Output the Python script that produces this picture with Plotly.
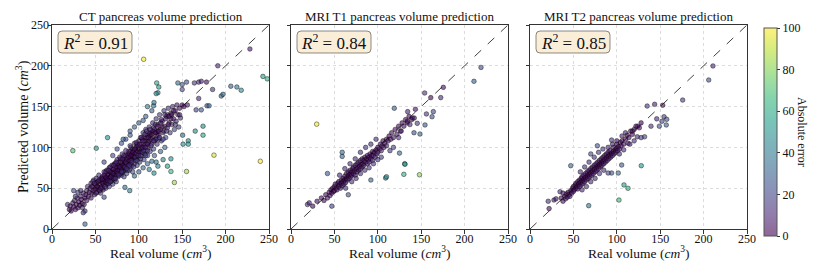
import plotly.graph_objects as go

# ---------------- data (real volume, predicted volume) ----------------
ct_points = [
    # low region
    (18,30),(20,24),(21,28),(22,22),(24,32),(25,27),(26,35),(27,24),(28,30),(29,38),(30,26),(31,33),
    (32,29),(33,40),(34,36),(35,31),(36,44),(37,30),(38,38),(39,42),(40,35),(40,47),(38,22),(35,26),
    (33,47),(30,45),(27,40),(41,52),(42,40),(43,45),
    # main cloud
    (44,50),(45,38),(45,56),(46,44),(47,52),(48,47),(48,60),(49,42),(50,55),(50,49),(51,62),(52,45),
    (52,57),(53,51),(54,66),(54,48),(55,55),(56,60),(56,44),(57,52),(58,64),(58,57),(59,48),(60,70),
    (60,60),(60,54),(61,65),(62,50),(62,58),(63,72),(63,62),(64,55),(65,68),(65,60),(66,75),(66,52),
    (67,64),(68,70),(68,58),(69,78),(69,66),(70,62),(70,73),(70,55),(71,68),(72,80),(72,60),(73,72),
    (73,66),(74,76),(74,58),(75,85),(75,70),(76,64),(76,78),(77,72),(78,68),(78,88),(79,75),(80,80),
    (80,66),(80,73),(81,92),(82,77),(82,70),(83,84),(83,64),(84,80),(85,74),(85,90),(86,68),(86,85),
    (87,78),(88,95),(88,83),(89,72),(90,88),(90,80),(91,100),(91,76),(92,92),(92,85),(93,70),(94,96),
    (94,88),(95,80),(95,105),(96,92),(97,86),(97,100),(98,78),(99,95),(100,88),(100,108),(100,98),
    (101,82),(102,112),(102,95),(103,104),(104,90),(105,100),(105,118),(106,85),(107,108),(108,96),
    (108,122),(109,104),(110,90),(110,115),(111,100),(112,125),(112,108),(113,95),(114,118),(115,104),
    (116,130),(116,112),(117,98),(118,122),(119,110),(120,135),(120,118),(121,104),(122,128),(123,115),
    (124,140),(125,122),(126,108),(127,132),(128,118),(129,145),(130,126),(131,112),(132,138),(133,124),
    (134,148),(135,130),(136,118),(137,142),(138,128),(139,150),(140,135),(141,122),(142,145),(143,132),
    (144,152),(145,140),(146,125),(147,148),(148,136),(150,152),
    (53,58),(55,47),(57,62),(59,56),(61,58),(63,56),(64,66),(66,62),(67,70),(69,60),(71,74),(72,66),
    (74,70),(76,72),(77,82),(79,68),(81,78),(82,86),(84,72),(86,80),(87,90),(89,84),(90,95),(92,78),
    (93,90),(95,88),(96,98),(98,92),(99,102),(101,94),(103,98),(104,110),(106,102),(107,92),(109,112),
    (111,106),(113,115),(114,102),(116,120),(118,108),(119,128),(121,115),(123,110),(125,130),(127,125),
    (129,120),(131,135),(133,140),(135,138),(138,140),
    (47,58),(51,44),(58,50),(62,70),(65,56),(67,76),(71,62),(73,80),(75,66),(77,76),(79,86),(81,70),
    (83,76),(85,82),(87,72),(89,92),(91,84),(93,98),(96,84),(98,104),(100,92),(102,86),(104,100),
    (106,112),(108,90),(110,104),(112,118),(114,110),(117,124),(120,110),(122,120),(124,112),(126,134),
    (128,110),(130,140),(132,120),(134,128),(137,135),(140,145),(142,128),
    (46,52),(49,56),(52,52),(54,60),(56,50),(58,61),(60,66),(61,52),(62,63),(64,59),(65,72),(67,58),
    (68,64),(70,68),(71,78),(73,62),(74,82),(76,68),(77,66),(78,76),(79,82),(80,70),(81,86),(83,90),
    (84,76),(85,96),(86,74),(88,88),(89,78),(90,102),(91,90),(92,82),(93,94),(94,76),(95,98),(96,88),
    (97,106),(98,84),(99,90),(101,104),(102,90),(103,112),(104,94),(105,108),(106,96),(107,116),
    (108,100),(109,120),(110,96),(111,112),(113,122),(115,116),(117,108),(119,118),(121,126),(123,120),
    # scattered around the cloud
    (105,75),(110,80),(112,73),(100,70),(95,65),(118,90),(125,95),(130,100),(128,85),(120,82),
    (60,82),(70,90),(75,98),(80,105),(85,110),(90,120),(95,125),(100,130),(108,138),(115,145),
    (64,112),(82,110),(90,115),(117,151),(117.5,155),(122,167),(110,150),(105,133),
    # outliers
    (105.6,208),(228,220.6),(191,200),(243,187),(248,184),(206,175),(213,174),(218,170),(195,163),
    (197,165),(185,171),(178,180),(169,180),(172,181),(164,179),(155,180),(150,177),(150,171),
    (145,179),(120.6,179),(123,174),(120,166),(169,160),(166,146),(172,146),(178.6,151),(181,151),
    (165,120),(174,126),(174,115),(150.5,115),(151,104),(157,108),(157,104),(155,70.5),(141,57),
    (137,70.5),(137,86),(122,77),(133,77),(117.5,68.5),(115,83),(186.6,90.5),(240,83),(24,96),
    (51,99),(38,6),(25,47),(60,39),(84,51),(89.5,47),(36,20),(147,140),(152,150),(156,152),
]

t1_points = [
    (35,38),(38,35),(40,42),(42,38),(44,45),(45,41),(46,48),(47,44),(48,50),(49,46),(50,52),(50,47),
    (51,55),(52,50),(53,48),(54,56),(55,52),(55,58),(56,54),(57,50),(58,60),(58,56),(59,53),(60,62),
    (60,58),(61,55),(62,60),(62,65),(63,57),(64,62),(64,68),(65,60),(66,65),(66,70),(67,62),(68,67),
    (68,72),(69,64),(70,70),(70,66),(71,74),(72,68),(72,76),(73,71),(74,66),(74,78),(75,73),(76,70),
    (76,80),(77,75),(78,72),(78,82),(79,77),(80,74),(80,84),(81,79),(82,76),(82,86),(83,80),(84,84),
    (84,78),(85,88),(86,82),(87,86),(88,80),(88,90),(89,85),(90,88),(90,82),(91,92),(92,86),(93,90),
    (94,84),(94,95),(95,90),(96,94),(97,88),(98,97),(99,92),(100,100),(100,94),(102,98),(103,104),
    (104,96),(105,102),(106,108),(107,100),(108,105),(110,110),(110,102),(112,108),(113,114),(115,110),
    (116,118),(118,112),(120,122),(122,116),(124,126),(126,120),(128,130),(130,126),(132,134),(134,130),
    (136,138),(140,136),(63,50),(70,58),(75,62),(80,68),(85,72),(90,75),(95,80),(100,85),(104,88),
    (56,66),(62,74),(68,80),(74,86),(80,94),(86,100),(92,104),(98,110),
    (59,94),(59,89),(19,30),(21,32),(25,28),(30,34),(42,68),(47,28),(66,42),(92,60),(125,93),
    (29.6,128.5),(148,66.5),(130,67),(131,80),(109,62.5),(110,64),(119,148),
    (218.9,198),(210.8,181),(175.5,173.6),(172.5,161),(154,166.7),(161,161),(164,143.8),(156,141),
    (162.5,137.6),(154.4,127.5),(143.3,146.7),(134.4,143.8),(145.5,129.5),(148.6,116.4),(141.7,118),
    (131.3,79.3),(134,132),(137,128),(139,134),(142,136),(127,120),(124,112),(114,96),(118,100),
]

t2_points = [
    (36,38),(38,34),(40,40),(41,37),(42,43),(43,39),(44,45),(45,42),(46,40),(47,47),(48,44),(49,50),
    (50,46),(50,52),(51,48),(52,54),(53,50),(53,56),(54,52),(55,58),(55,49),(56,55),(57,60),(57,52),
    (58,57),(59,62),(59,54),(60,59),(60,64),(61,56),(62,61),(62,66),(63,58),(64,63),(64,68),(65,60),
    (66,65),(66,70),(67,62),(68,67),(68,72),(69,64),(70,69),(70,74),(71,66),(72,71),(72,76),(73,68),
    (74,73),(74,78),(75,70),(76,75),(76,80),(77,72),(78,77),(78,82),(79,74),(80,79),(80,84),(81,76),
    (82,81),(82,86),(83,78),(84,83),(84,88),(85,80),(86,85),(86,90),(87,82),(88,87),(88,92),(89,84),
    (90,89),(90,94),(91,86),(92,91),(92,96),(93,88),(94,93),(95,90),(96,95),(96,100),(97,92),(98,97),
    (99,94),(100,99),(100,104),(101,96),(102,101),(103,98),(104,106),(105,102),(106,108),(108,104),
    (110,110),(112,115),(114,112),(116,120),(118,116),(120,122),(124,126),(128,130),(60,48),(65,52),
    (70,58),(75,62),(80,68),(85,72),(58,70),(63,76),(68,82),(74,88),(79,94),(84,98),(90,100),(95,104),
    (100,108),(106,114),(110,118),(103,92),(108,97),(113,105),
    (210.8,199.8),(205.9,182.6),(175.9,158),(135,150.7),(143.6,152.8),(152.9,151.6),(154.4,137.6),
    (157.5,134.4),(152,132),(146,135),(149,126),(157,127.5),(139.4,126),(132,113),(123.6,113),
    (128,112),(128.2,77.6),(108.3,54),(112.9,49.9),(102.5,35.5),(67.6,28.6),(46.9,77.6),
    (101.7,68.6),(94,68.6),(90,68.6),(105.6,78.4),(77.6,102),(70,92),(94,109),(21,34),(27.6,35.5),
    (30,37),(34.6,45.7),(38,44),(22,25),(118,120),(122,126),(126,124),(115,104),(120,108),
]

r2_values = [0.91, 0.84, 0.85]
panel_titles = ["CT pancreas volume prediction", "MRI T1 pancreas volume prediction",
                "MRI T2 pancreas volume prediction"]
tick_vals = [0, 50, 100, 150, 200, 250]

# ---------------- styling ----------------
FONT = "Liberation Serif"
W, H = 830, 277
viridis = ["#440154", "#482878", "#3e4989", "#31688e", "#26828e",
           "#1f9e89", "#35b779", "#6ece58", "#b5de2b", "#fde725"]
ALPHA = 0.6
def rgba(h, a):
    h = h.lstrip("#")
    return f"rgba({int(h[0:2],16)},{int(h[2:4],16)},{int(h[4:6],16)},{a})"
cscale = [[i / (len(viridis) - 1), rgba(c, ALPHA)] for i, c in enumerate(viridis)]

# panel pixel extents
px_left = [52, 291, 530]
px_w = 217
py_top, py_bot = 25, 229

fig = go.Figure()
datasets = [ct_points, t1_points, t2_points]
for i, pts in enumerate(datasets):
    xs = [p[0] for p in pts]
    ys = [p[1] for p in pts]
    err = [abs(b - a) for a, b in pts]
    suffix = "" if i == 0 else str(i + 1)
    fig.add_trace(go.Scatter(
        x=[0, 250], y=[0, 250], mode="lines",
        line=dict(color="rgba(0,0,0,0.75)", width=1, dash="dash"),
        xaxis="x" + suffix, yaxis="y" + suffix, showlegend=False, hoverinfo="skip"))
    fig.add_trace(go.Scatter(
        x=xs, y=ys, mode="markers",
        marker=dict(size=4.6, color=err, coloraxis="coloraxis",
                    line=dict(color="rgba(0,0,0,0.7)", width=0.6)),
        xaxis="x" + suffix, yaxis="y" + suffix, showlegend=False))

axis_common = dict(range=[0, 250], tickvals=tick_vals, showline=True, linecolor="#333",
                   linewidth=1, mirror=True, ticks="outside", ticklen=3.5, tickcolor="#333",
                   showgrid=True, gridcolor="#dcdcdc", griddash="dot", gridwidth=0.8,
                   zeroline=False, automargin=False,
                   tickfont=dict(family=FONT, size=12, color="#111"))

layout = dict(width=W, height=H, margin=dict(l=0, r=0, t=0, b=0, pad=0, autoexpand=False),
              paper_bgcolor="white", plot_bgcolor="white",
              font=dict(family=FONT, color="#111"))
ydom = [1 - py_bot / H, 1 - py_top / H]
for i in range(3):
    suffix = "" if i == 0 else str(i + 1)
    xdom = [px_left[i] / W, (px_left[i] + px_w) / W]
    layout["xaxis" + suffix] = dict(axis_common, domain=xdom, anchor="y" + suffix,
                                    ticklabelstandoff=-5)
    layout["yaxis" + suffix] = dict(axis_common, domain=ydom, anchor="x" + suffix,
                                    showticklabels=(i == 0), ticklabelstandoff=-4)
layout["coloraxis"] = dict(
    cmin=0, cmax=100, colorscale=cscale,
    colorbar=dict(x=764 / W, xanchor="left", y=1 - 132 / H, yanchor="middle",
                  len=208 / H, lenmode="fraction", thickness=13, outlinewidth=1,
                  outlinecolor="#555", ticks="outside", ticklen=3, tickcolor="#333",
                  tickvals=[0, 20, 40, 60, 80, 100],
                  tickfont=dict(family=FONT, size=12, color="#111"), xpad=0, ypad=0))
fig.update_layout(**layout)

annotations = []
shapes = []
sx = 250 / px_w
sy = 250 / (py_bot - py_top)
for i in range(3):
    suffix = "" if i == 0 else str(i + 1)
    cx = (px_left[i] + px_w / 2) / W
    annotations.append(dict(text=panel_titles[i], x=cx, y=1 - 17 / H, xref="paper", yref="paper",
                            showarrow=False, font=dict(family=FONT, size=13, color="#111"),
                            xanchor="center", yanchor="middle"))
    annotations.append(dict(text="Real volume (<i>cm</i><sup>3</sup>)", x=cx, y=1 - 252 / H,
                            xref="paper", yref="paper", showarrow=False, borderpad=0,
                            font=dict(family=FONT, size=13.5, color="#111"),
                            xanchor="center", yanchor="middle"))
    # rounded R^2 box in data coordinates
    x0, x1 = 6 * sx, 80 * sx
    y1, y0 = 250 - 6 * sy, 250 - 28 * sy
    rx, ry = 4 * sx, 4 * sy
    path = (f"M {x0+rx},{y0} L {x1-rx},{y0} Q {x1},{y0} {x1},{y0+ry} L {x1},{y1-ry} "
            f"Q {x1},{y1} {x1-rx},{y1} L {x0+rx},{y1} Q {x0},{y1} {x0},{y1-ry} "
            f"L {x0},{y0+ry} Q {x0},{y0} {x0+rx},{y0} Z")
    shapes.append(dict(type="path", path=path, xref="x" + suffix, yref="y" + suffix,
                       fillcolor="#faeed9", line=dict(color="rgba(0,0,0,0.45)", width=1),
                       layer="above"))
    annotations.append(dict(text=f"<i>R</i><sup>2</sup> = {r2_values[i]:.2f}",
                            x=(x0 + x1) / 2, y=(y0 + y1) / 2, xref="x" + suffix, yref="y" + suffix,
                            showarrow=False, font=dict(family=FONT, size=17, color="#111"),
                            xanchor="center", yanchor="middle"))
annotations.append(dict(text="Predicted volume (<i>cm</i><sup>3</sup>)", x=22 / W,
                        y=1 - 127 / H, xref="paper", yref="paper", textangle=-90,
                        showarrow=False, font=dict(family=FONT, size=14, color="#111"),
                        xanchor="center", yanchor="middle"))
annotations.append(dict(text="Absolute error", x=802 / W, y=1 - 132 / H, xref="paper",
                        yref="paper", textangle=90, showarrow=False,
                        font=dict(family=FONT, size=12, color="#111"),
                        xanchor="center", yanchor="middle"))
fig.update_layout(annotations=annotations, shapes=shapes)

fig.write_html("out.html", config={"displayModeBar": False},
               post_script="document.body.style.margin='0';document.body.style.overflow='hidden';")
